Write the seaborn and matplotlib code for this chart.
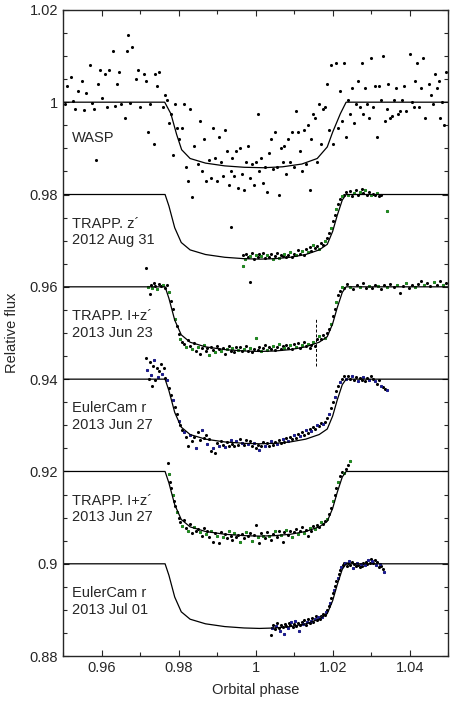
import matplotlib
matplotlib.use("Agg")
import matplotlib.pyplot as plt
import numpy as np
import pandas as pd
import seaborn as sns
from matplotlib.ticker import MultipleLocator

# transit model (shape relative to baseline)
model_phase = [0.95, 0.9765, 0.9775, 0.979, 0.9807, 0.983, 0.987, 0.992, 0.997, 1.001,
               1.005, 1.009, 1.013, 1.0165, 1.0186, 1.0200, 1.0212, 1.0225, 1.0235, 1.05]
model_depth = [0, 0, -0.0025, -0.0072, -0.0104, -0.0120, -0.0130, -0.0136, -0.0139, -0.0140,
               -0.0139, -0.0136, -0.0130, -0.0120, -0.0108, -0.0080, -0.0045, -0.0012, 0, 0]

wasp_model_phase = [0.95, 0.9764, 0.978, 0.9795, 0.9808, 0.983, 0.987, 0.992, 0.997, 1.002,
                    1.007, 1.012, 1.016, 1.0186, 1.020, 1.022, 1.0235, 1.05]
wasp_model_flux = [1, 1, 0.9975, 0.993, 0.9897, 0.9878, 0.9868, 0.9862, 0.9859, 0.9858,
                   0.9860, 0.9866, 0.9878, 0.9903, 0.9935, 0.9975, 1, 1]

baselines = [0.98, 0.96, 0.94, 0.92, 0.90]

wasp = [(0.9505, 0.9997), (0.951, 1.0035), (0.952, 1.0055), (0.9525, 1.0002), (0.953, 0.9985), (0.954, 1.0025),
        (0.955, 1.0045), (0.9555, 0.9982), (0.956, 1.0020), (0.957, 1.0080), (0.9575, 0.9998), (0.958, 0.9985),
        (0.9585, 0.9875), (0.959, 1.0040), (0.9595, 1.0070), (0.960, 1.0010), (0.961, 1.0060), (0.9615, 0.9990),
        (0.962, 1.0070), (0.963, 1.0110), (0.9635, 0.9992), (0.964, 1.0040), (0.9645, 1.0065), (0.965, 0.9995),
        (0.966, 0.9965), (0.9665, 1.0110), (0.967, 1.0145), (0.9675, 0.9999), (0.968, 1.0120), (0.969, 1.0050),
        (0.9695, 1.0070), (0.970, 0.9990), (0.971, 1.0060), (0.9715, 1.0045), (0.972, 0.9935), (0.9725, 0.9995),
        (0.9735, 0.9910), (0.974, 1.0060), (0.9745, 1.0035), (0.975, 1.0065), (0.976, 0.9990), (0.9765, 1.0015),
        (0.977, 1.0005), (0.9775, 0.9955), (0.978, 0.9975), (0.9785, 0.9885), (0.979, 0.9995), (0.9795, 0.9945),
        (0.980, 0.9920), (0.981, 0.9945), (0.9815, 0.9995), (0.982, 0.9860), (0.9825, 0.9830), (0.983, 0.9985),
        (0.9835, 0.9795), (0.984, 0.9905), (0.985, 0.9865), (0.9855, 0.9960), (0.986, 0.9850), (0.9865, 0.9920),
        (0.987, 0.9830), (0.988, 0.9875), (0.9885, 0.9835), (0.989, 0.9945), (0.9895, 0.9880), (0.990, 0.9830),
        (0.9905, 0.9925), (0.991, 0.9870), (0.9915, 0.9840), (0.992, 0.9940), (0.9925, 0.9895), (0.993, 0.9820),
        (0.9935, 0.9850), (0.994, 0.9880), (0.9945, 0.9840), (0.995, 0.9895), (0.9955, 0.9815), (0.996, 0.9900),
        (0.9965, 0.9845), (0.997, 0.9810), (0.9975, 0.9870), (0.998, 0.9905), (0.9985, 0.9835), (0.999, 0.9865),
        (0.9995, 0.9820), (1.000, 0.9870), (1.0005, 0.9975), (1.001, 0.9850), (1.0015, 0.9880), (1.002, 0.9825),
        (1.0025, 0.9860), (1.003, 0.9805), (1.0035, 0.9890), (1.004, 0.9920), (1.0045, 0.9855), (1.005, 0.9935),
        (1.0055, 0.9860), (1.006, 0.9800), (1.0065, 0.9900), (1.007, 0.9870), (1.0075, 0.9905), (1.008, 0.9845),
        (1.0085, 0.9920), (1.009, 0.9870), (1.0095, 0.9935), (1.010, 0.9860), (1.0105, 0.9980), (1.011, 0.9935),
        (1.0115, 0.9895), (1.012, 0.9850), (1.0125, 0.9940), (1.013, 0.9865), (1.0135, 0.9950), (1.014, 0.9810),
        (1.0145, 0.9920), (1.015, 0.9975), (1.0155, 0.9965), (1.016, 0.9870), (1.0165, 0.9995), (1.017, 0.9910),
        (1.0175, 0.9985), (1.018, 0.9990), (1.0185, 1.0040), (1.019, 0.9940), (1.0195, 1.0080), (1.020, 0.9910),
        (1.021, 1.0085), (1.0215, 0.9945), (1.022, 1.0025), (1.0225, 0.9960), (1.023, 1.0085), (1.0235, 0.9925),
        (1.024, 1.0005), (1.0245, 0.9975), (1.025, 1.0030), (1.0255, 0.9955), (1.026, 0.9995), (1.0265, 1.0045),
        (1.027, 0.9990), (1.0275, 1.0085), (1.028, 0.9975), (1.0285, 1.0030), (1.029, 0.9995), (1.0295, 0.9965),
        (1.030, 1.0095), (1.0305, 0.9990), (1.031, 1.0035), (1.0315, 0.9925), (1.032, 1.0035), (1.0325, 1.0005),
        (1.033, 1.0100), (1.0335, 0.9960), (1.034, 0.9985), (1.0345, 1.0040), (1.035, 0.9965), (1.0355, 0.9970),
        (1.036, 1.0005), (1.0365, 1.0030), (1.037, 0.9975), (1.0375, 0.9980), (1.038, 1.0005), (1.0385, 1.0035),
        (1.039, 0.9980), (1.040, 1.0105), (1.0405, 1.0000), (1.041, 0.9990), (1.0415, 1.0045), (1.042, 1.0085),
        (1.0425, 0.9990), (1.043, 1.0030), (1.0435, 1.0095), (1.044, 0.9965), (1.045, 1.0040), (1.0455, 1.0015),
        (1.046, 0.9995), (1.0465, 1.0060), (1.047, 1.0030), (1.0475, 1.0045), (1.048, 0.9965), (1.0485, 1.0000),
        (1.049, 0.9950), (1.0495, 1.0065)]

aug31 = [(0.9935, 0.9730), (0.9966, 0.9645), (0.9986, 0.9611), (0.9968, 0.9670), (0.9972, 0.9660), (0.9976, 0.9672),
         (0.998, 0.9665), (0.9985, 0.9667), (0.999, 0.9674), (0.9995, 0.9661), (1.000, 0.9669), (1.0005, 0.9664),
         (1.001, 0.9671), (1.0015, 0.9667), (1.002, 0.9673), (1.0025, 0.9662), (1.003, 0.9668), (1.0035, 0.9665),
         (1.004, 0.9671), (1.0045, 0.9660), (1.005, 0.9667), (1.0055, 0.9674), (1.006, 0.9663), (1.0065, 0.9669),
         (1.007, 0.9666), (1.0075, 0.9672), (1.008, 0.9664), (1.0085, 0.9670), (1.009, 0.9676), (1.0095, 0.9665),
         (1.010, 0.9671), (1.0105, 0.9668), (1.011, 0.9680), (1.0115, 0.9672), (1.012, 0.9677), (1.0125, 0.9669),
         (1.013, 0.9682), (1.0135, 0.9675), (1.014, 0.9686), (1.0145, 0.9678), (1.015, 0.9690), (1.0155, 0.9684),
         (1.016, 0.9688), (1.0165, 0.9682), (1.017, 0.9694), (1.0175, 0.9690), (1.018, 0.9700), (1.0185, 0.9705),
         (1.019, 0.9716), (1.0195, 0.9728), (1.020, 0.9742), (1.0205, 0.9755), (1.021, 0.9768), (1.0215, 0.9780),
         (1.022, 0.9790), (1.0225, 0.9797), (1.023, 0.9798), (1.0235, 0.9806), (1.024, 0.9800), (1.0245, 0.9808),
         (1.025, 0.9797), (1.0255, 0.9804), (1.026, 0.9810), (1.0265, 0.9799), (1.027, 0.9806), (1.0275, 0.9812),
         (1.028, 0.9803), (1.0285, 0.9809), (1.029, 0.9800), (1.0295, 0.9805), (1.030, 0.9798), (1.0305, 0.9802),
         (1.031, 0.9799), (1.0315, 0.9803), (1.032, 0.9797), (1.0325, 0.9800), (1.0342, 0.9765)]

jun23 = [(0.9715, 0.9640), (0.9720, 0.9600), (0.9725, 0.9585), (0.9728, 0.9605), (0.9732, 0.9598), (0.9736, 0.9608),
         (0.9740, 0.9602), (0.9745, 0.9595), (0.9750, 0.9607), (0.9755, 0.9601), (0.9760, 0.9604), (0.9765, 0.9597),
         (0.9770, 0.9603), (0.9775, 0.9588), (0.9780, 0.9570), (0.9785, 0.9552), (0.9790, 0.9530), (0.9795, 0.9515),
         (0.9800, 0.9498), (0.9805, 0.9487), (0.9810, 0.9480), (0.9815, 0.9476), (0.9820, 0.9470), (0.9825, 0.9484),
         (0.9830, 0.9472), (0.9835, 0.9466), (0.9840, 0.9478), (0.9845, 0.9462), (0.9850, 0.9470), (0.9855, 0.9455),
         (0.9860, 0.9468), (0.9865, 0.9474), (0.9870, 0.9460), (0.9875, 0.9467), (0.9880, 0.9452), (0.9885, 0.9470),
         (0.9890, 0.9463), (0.9895, 0.9458), (0.9900, 0.9471), (0.9905, 0.9465), (0.9910, 0.9460), (0.9915, 0.9468),
         (0.9920, 0.9455), (0.9925, 0.9466), (0.9930, 0.9472), (0.9935, 0.9461), (0.9940, 0.9467), (0.9945, 0.9458),
         (0.9950, 0.9469), (0.9955, 0.9463), (0.9960, 0.9470), (0.9965, 0.9460), (0.9970, 0.9466), (0.9975, 0.9472),
         (0.9980, 0.9462), (0.9985, 0.9468), (0.9990, 0.9459), (0.9995, 0.9466), (1.0000, 0.9490), (1.0005, 0.9464),
         (1.0010, 0.9470), (1.0015, 0.9461), (1.0020, 0.9468), (1.0025, 0.9473), (1.0030, 0.9463), (1.0035, 0.9469),
         (1.0040, 0.9466), (1.0045, 0.9472), (1.0050, 0.9464), (1.0055, 0.9470), (1.0060, 0.9476), (1.0065, 0.9466),
         (1.0070, 0.9472), (1.0075, 0.9468), (1.0080, 0.9475), (1.0085, 0.9467), (1.0090, 0.9473), (1.0095, 0.9465),
         (1.0100, 0.9476), (1.0105, 0.9470), (1.0110, 0.9478), (1.0115, 0.9468), (1.0120, 0.9475), (1.0125, 0.9481),
         (1.0130, 0.9471), (1.0135, 0.9477), (1.0140, 0.9468), (1.0145, 0.9474), (1.0150, 0.9480), (1.0155, 0.9472),
         (1.0160, 0.9488), (1.0165, 0.9493), (1.0170, 0.9486), (1.0175, 0.9495), (1.0180, 0.9490), (1.0185, 0.9500),
         (1.0190, 0.9508), (1.0195, 0.9520), (1.0200, 0.9536), (1.0205, 0.9552), (1.0210, 0.9568), (1.0215, 0.9582),
         (1.0220, 0.9592), (1.0225, 0.9600), (1.0230, 0.9598), (1.0238, 0.9606), (1.0246, 0.9600), (1.0254, 0.9595),
         (1.0262, 0.9603), (1.0270, 0.9599), (1.0278, 0.9608), (1.0286, 0.9597), (1.0294, 0.9602), (1.0302, 0.9598),
         (1.0310, 0.9605), (1.0318, 0.9601), (1.0326, 0.9596), (1.0334, 0.9604), (1.0342, 0.9599), (1.0350, 0.9606),
         (1.0358, 0.9600), (1.0366, 0.9603), (1.0374, 0.9586), (1.0382, 0.9601), (1.0390, 0.9608), (1.0398, 0.9598),
         (1.0406, 0.9604), (1.0414, 0.9600), (1.0422, 0.9607), (1.0430, 0.9612), (1.0438, 0.9603), (1.0446, 0.9609),
         (1.0454, 0.9601), (1.0462, 0.9610), (1.0470, 0.9605), (1.0478, 0.9612), (1.0486, 0.9604), (1.0494, 0.9608)]

euler_jun27 = [(0.9715, 0.9445), (0.9718, 0.9420), (0.9722, 0.9400), (0.9725, 0.9438), (0.9728, 0.9410),
               (0.9731, 0.9385), (0.9734, 0.9428), (0.9737, 0.9442), (0.9740, 0.9398), (0.9743, 0.9425),
               (0.9746, 0.9405), (0.9750, 0.9418), (0.9754, 0.9432), (0.9758, 0.9412), (0.9762, 0.9425),
               (0.9766, 0.9402), (0.9770, 0.9398), (0.9775, 0.9380), (0.9780, 0.9365), (0.9785, 0.9355),
               (0.9790, 0.9340), (0.9795, 0.9325), (0.9800, 0.9310), (0.9805, 0.9300), (0.9810, 0.9290),
               (0.9815, 0.9285), (0.9820, 0.9275), (0.9825, 0.9255), (0.9830, 0.9280), (0.9835, 0.9265),
               (0.9840, 0.9275), (0.9845, 0.9250), (0.9850, 0.9285), (0.9855, 0.9268), (0.9860, 0.9290),
               (0.9865, 0.9272), (0.9870, 0.9280), (0.9875, 0.9260), (0.9880, 0.9270), (0.9885, 0.9245),
               (0.9890, 0.9250), (0.9895, 0.9240), (0.9900, 0.9262), (0.9905, 0.9255), (0.9910, 0.9266),
               (0.9915, 0.9258), (0.9920, 0.9252), (0.9925, 0.9263), (0.9930, 0.9256), (0.9935, 0.9268),
               (0.9940, 0.9260), (0.9945, 0.9255), (0.9950, 0.9265), (0.9955, 0.9258), (0.9960, 0.9270),
               (0.9965, 0.9262), (0.9970, 0.9257), (0.9975, 0.9268), (0.9980, 0.9260), (0.9985, 0.9266),
               (0.9990, 0.9255), (0.9995, 0.9262), (1.0000, 0.9250), (1.0005, 0.9258), (1.0010, 0.9246),
               (1.0015, 0.9255), (1.0020, 0.9263), (1.0025, 0.9256), (1.0030, 0.9262), (1.0035, 0.9255),
               (1.0040, 0.9266), (1.0045, 0.9258), (1.0050, 0.9264), (1.0055, 0.9260), (1.0060, 0.9268),
               (1.0065, 0.9262), (1.0070, 0.9270), (1.0075, 0.9264), (1.0080, 0.9272), (1.0085, 0.9266),
               (1.0090, 0.9275), (1.0095, 0.9270), (1.0100, 0.9278), (1.0105, 0.9272), (1.0110, 0.9281),
               (1.0115, 0.9276), (1.0120, 0.9285), (1.0125, 0.9280), (1.0130, 0.9289), (1.0135, 0.9284),
               (1.0140, 0.9292), (1.0145, 0.9288), (1.0150, 0.9296), (1.0155, 0.9292), (1.0160, 0.9300),
               (1.0165, 0.9298), (1.0170, 0.9305), (1.0175, 0.9302), (1.0180, 0.9308), (1.0185, 0.9315),
               (1.0190, 0.9325), (1.0195, 0.9338), (1.0200, 0.9350), (1.0205, 0.9362), (1.0210, 0.9375),
               (1.0215, 0.9386), (1.0220, 0.9394), (1.0225, 0.9400), (1.0230, 0.9406), (1.0235, 0.9401),
               (1.0240, 0.9407), (1.0245, 0.9400), (1.0250, 0.9406), (1.0255, 0.9398), (1.0260, 0.9404),
               (1.0265, 0.9397), (1.0270, 0.9403), (1.0275, 0.9399), (1.0280, 0.9405), (1.0285, 0.9396),
               (1.0290, 0.9402), (1.0295, 0.9398), (1.0300, 0.9406), (1.0305, 0.9400), (1.0310, 0.9395),
               (1.0315, 0.9390), (1.0320, 0.9398), (1.0325, 0.9385), (1.0330, 0.9382), (1.0335, 0.9379),
               (1.0340, 0.9377)]

trapp_jun27 = [(0.9773, 0.9218), (0.9775, 0.9195), (0.9778, 0.9178), (0.9781, 0.9165), (0.9785, 0.9150),
               (0.9788, 0.9135), (0.9792, 0.9125), (0.9795, 0.9112), (0.9800, 0.9100), (0.9805, 0.9090),
               (0.9810, 0.9082), (0.9815, 0.9095), (0.9820, 0.9078), (0.9825, 0.9072), (0.9830, 0.9086),
               (0.9835, 0.9066), (0.9840, 0.9080), (0.9845, 0.9070), (0.9850, 0.9075), (0.9855, 0.9068),
               (0.9860, 0.9060), (0.9865, 0.9078), (0.9870, 0.9064), (0.9875, 0.9070), (0.9880, 0.9058),
               (0.9885, 0.9072), (0.9890, 0.9048), (0.9895, 0.9066), (0.9900, 0.9060), (0.9905, 0.9046),
               (0.9910, 0.9068), (0.9915, 0.9058), (0.9920, 0.9064), (0.9925, 0.9055), (0.9930, 0.9070),
               (0.9935, 0.9061), (0.9940, 0.9052), (0.9945, 0.9066), (0.9950, 0.9058), (0.9955, 0.9062),
               (0.9960, 0.9048), (0.9965, 0.9064), (0.9970, 0.9056), (0.9975, 0.9068), (0.9980, 0.9060),
               (0.9985, 0.9066), (0.9990, 0.9050), (0.9995, 0.9062), (1.0000, 0.9085), (1.0005, 0.9058),
               (1.0010, 0.9046), (1.0015, 0.9066), (1.0020, 0.9060), (1.0025, 0.9055), (1.0030, 0.9068),
               (1.0035, 0.9061), (1.0040, 0.9052), (1.0045, 0.9065), (1.0050, 0.9070), (1.0055, 0.9058),
               (1.0060, 0.9072), (1.0065, 0.9062), (1.0070, 0.9048), (1.0075, 0.9068), (1.0080, 0.9074),
               (1.0085, 0.9063), (1.0090, 0.9070), (1.0095, 0.9058), (1.0100, 0.9068), (1.0105, 0.9075),
               (1.0110, 0.9064), (1.0115, 0.9070), (1.0120, 0.9080), (1.0125, 0.9066), (1.0130, 0.9074),
               (1.0135, 0.9060), (1.0140, 0.9078), (1.0145, 0.9070), (1.0150, 0.9082), (1.0155, 0.9075),
               (1.0160, 0.9085), (1.0165, 0.9080), (1.0170, 0.9090), (1.0175, 0.9086), (1.0180, 0.9092),
               (1.0185, 0.9098), (1.0190, 0.9108), (1.0195, 0.9120), (1.0200, 0.9135), (1.0205, 0.9150),
               (1.0210, 0.9165), (1.0215, 0.9178), (1.0220, 0.9190), (1.0225, 0.9198), (1.0230, 0.9196),
               (1.0235, 0.9206), (1.0240, 0.9214), (1.0245, 0.9222)]

euler_jul01 = [(1.0040, 0.8845), (1.0043, 0.8862), (1.0046, 0.8868), (1.0050, 0.8858), (1.0053, 0.8866),
               (1.0056, 0.8872), (1.0060, 0.8862), (1.0063, 0.8855), (1.0066, 0.8868), (1.0070, 0.8864),
               (1.0073, 0.8849), (1.0076, 0.8870), (1.0080, 0.8866), (1.0083, 0.8860), (1.0086, 0.8872),
               (1.0090, 0.8867), (1.0093, 0.8874), (1.0096, 0.8864), (1.0100, 0.8870), (1.0103, 0.8876),
               (1.0106, 0.8866), (1.0110, 0.8872), (1.0113, 0.8854), (1.0116, 0.8868), (1.0120, 0.8874),
               (1.0123, 0.8870), (1.0126, 0.8878), (1.0130, 0.8868), (1.0133, 0.8873), (1.0136, 0.8880),
               (1.0140, 0.8871), (1.0143, 0.8876), (1.0146, 0.8882), (1.0150, 0.8874), (1.0153, 0.8880),
               (1.0156, 0.8886), (1.0160, 0.8878), (1.0163, 0.8884), (1.0166, 0.8880), (1.0170, 0.8888),
               (1.0173, 0.8884), (1.0176, 0.8892), (1.0180, 0.8890), (1.0183, 0.8896), (1.0186, 0.8900),
               (1.0190, 0.8908), (1.0193, 0.8916), (1.0196, 0.8926), (1.0200, 0.8936), (1.0203, 0.8944),
               (1.0206, 0.8952), (1.0210, 0.8962), (1.0213, 0.8970), (1.0216, 0.8978), (1.0220, 0.8986),
               (1.0223, 0.8992), (1.0226, 0.8998), (1.0230, 0.9002), (1.0233, 0.9002), (1.0236, 0.8995),
               (1.0240, 0.9001), (1.0243, 0.9006), (1.0246, 0.8998), (1.0250, 0.9003), (1.0253, 0.8990),
               (1.0256, 0.9000), (1.0260, 0.8996), (1.0263, 0.9002), (1.0266, 0.8998), (1.0270, 0.8994),
               (1.0273, 0.9000), (1.0276, 0.8996), (1.0280, 0.9002), (1.0283, 0.8997), (1.0286, 0.9004),
               (1.0290, 0.9000), (1.0293, 0.9008), (1.0296, 0.9002), (1.0300, 0.9010), (1.0303, 0.9006),
               (1.0306, 0.9001), (1.0310, 0.9008), (1.0313, 0.8998), (1.0316, 0.9004), (1.0320, 0.8994),
               (1.0323, 0.9000), (1.0326, 0.8996), (1.0330, 0.8988), (1.0333, 0.8982)]

label_lines = [["WASP"], ["TRAPP. z\u00b4", "2012 Aug 31"], ["TRAPP. I+z\u00b4", "2013 Jun 23"],
               ["EulerCam r", "2013 Jun 27"], ["TRAPP. I+z\u00b4", "2013 Jun 27"], ["EulerCam r", "2013 Jul 01"]]
label_base = [1.0, 0.98, 0.96, 0.94, 0.92, 0.90]

GREEN = "#1f8f1f"
BLUE = "#1c1c96"

sns.set_theme(style="ticks")
plt.rcParams["font.family"] = ["Liberation Sans", "DejaVu Sans"]

fig = plt.figure(figsize=(4.5, 7.04), dpi=100)
ax = fig.add_axes([0.14, 0.068, 0.856, 0.918])

ax.plot(wasp_model_phase, wasp_model_flux, color="black", lw=0.9)
for b in baselines:
    ax.plot(model_phase, np.array(model_depth) + b, color="black", lw=0.9)


def draw(points, accent):
    df = pd.DataFrame(points, columns=["phase", "flux"])
    sns.scatterplot(data=df, x="phase", y="flux", color="black", s=5, linewidth=0, ax=ax)
    if accent is not None:
        sub = df.iloc[1::3]
        sns.scatterplot(data=sub, x="phase", y="flux", color=accent, s=5, linewidth=0, ax=ax)


draw(wasp, None)
draw(aug31, GREEN)
draw(jun23, GREEN)
draw(euler_jun27, BLUE)
draw(trapp_jun27, GREEN)
draw(euler_jul01, BLUE)

# meridian flip marker
ax.plot([1.0157, 1.0157], [0.9429, 0.9533], color="black", lw=0.7, ls=(0, (3, 2)))

for lines, b in zip(label_lines, label_base):
    if len(lines) == 1:
        ax.text(0.9523, b - 0.0077, lines[0], fontsize=10.5, va="center")
    else:
        ax.text(0.9523, b - 0.0063, lines[0], fontsize=10.5, va="center")
        ax.text(0.9523, b - 0.0099, lines[1], fontsize=10.5, va="center")

ax.set_xlim(0.95, 1.05)
ax.set_ylim(0.88, 1.02)
ax.xaxis.set_minor_locator(MultipleLocator(0.01))
ax.yaxis.set_minor_locator(MultipleLocator(0.005))
ax.set_xticks([0.96, 0.98, 1.0, 1.02, 1.04])
ax.set_xticklabels(["0.96", "0.98", "1", "1.02", "1.04"])
ax.set_yticks([0.88, 0.90, 0.92, 0.94, 0.96, 0.98, 1.0, 1.02])
ax.set_yticklabels(["0.88", "0.9", "0.92", "0.94", "0.96", "0.98", "1", "1.02"])
ax.tick_params(which="both", direction="in", top=True, right=True, labelsize=10.5, width=0.8)
ax.tick_params(which="major", length=4)
ax.tick_params(which="minor", length=3)
for s in ax.spines.values():
    s.set_linewidth(1.0)
ax.set_xlabel("Orbital phase", fontsize=10.5, labelpad=6)
ax.set_ylabel("Relative flux", fontsize=10.5, labelpad=8)

fig.savefig("out.png", dpi=100)
